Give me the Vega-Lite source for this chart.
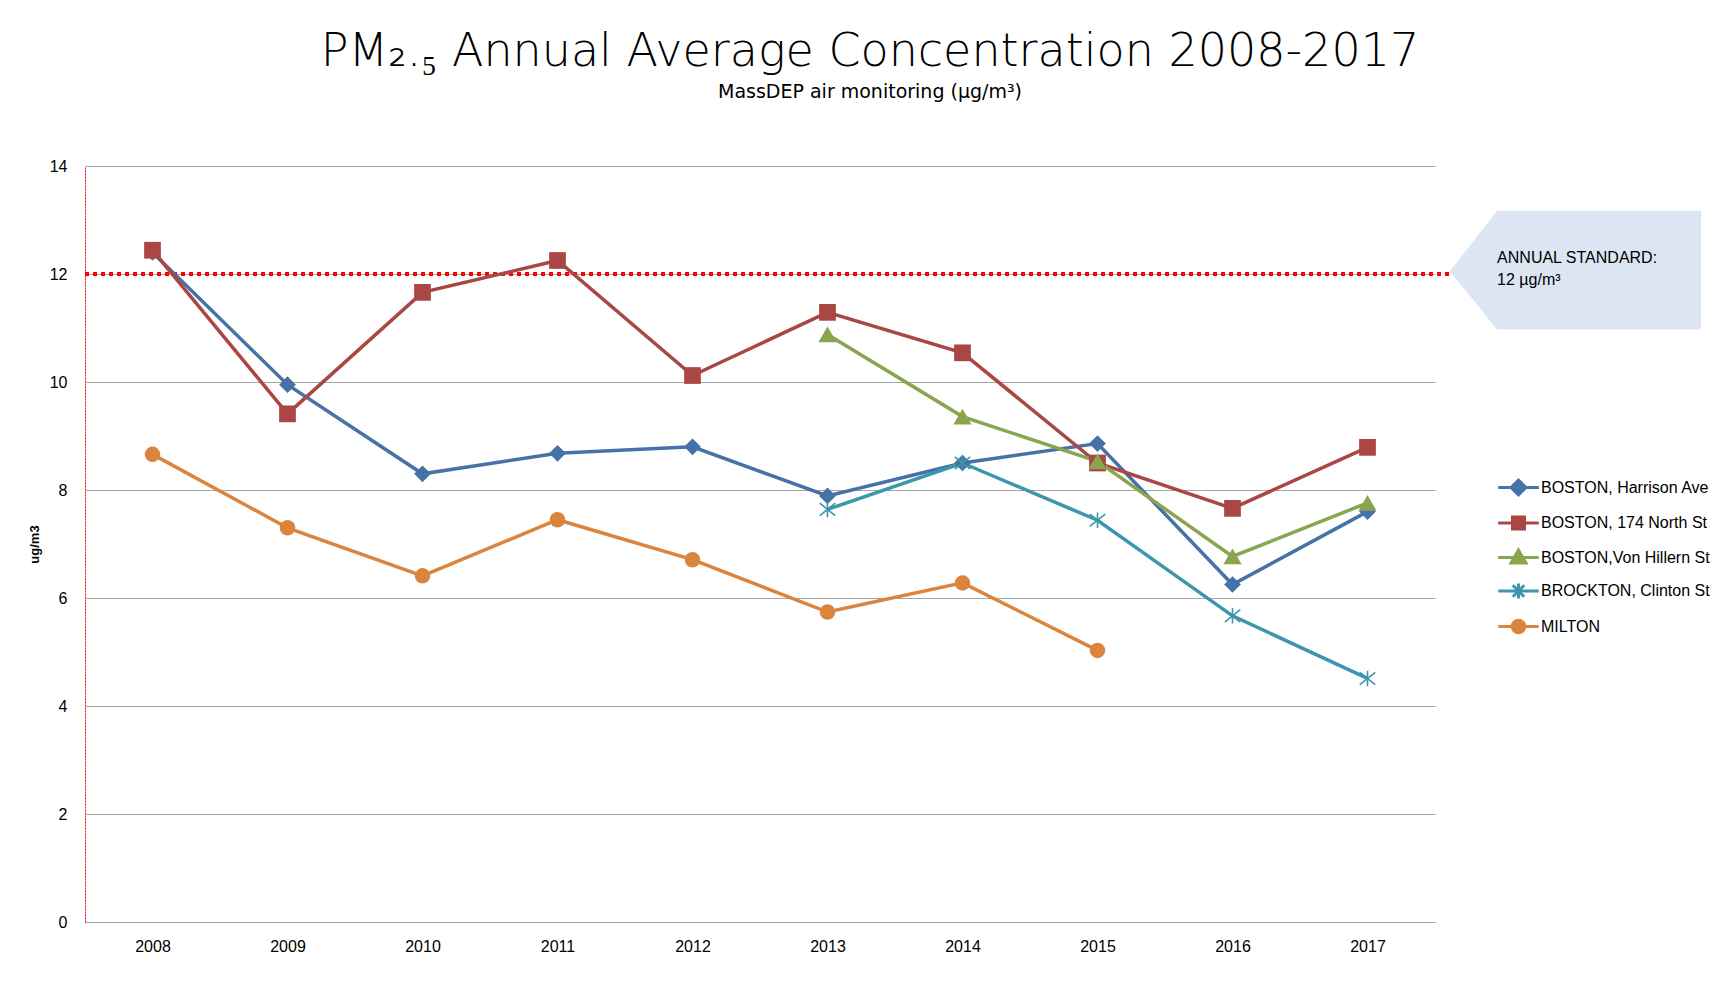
{
  "$schema": "https://vega.github.io/schema/vega-lite/v6.json",
  "autosize": {"type": "none"},
  "padding": {"left": 85, "top": 166, "right": 297, "bottom": 86},
  "width": 1350,
  "height": 756,
  "background": "white",
  "title": {
    "text": "PM₂.₅ Annual Average Concentration 2008-2017",
    "subtitle": "MassDEP air monitoring (µg/m³)",
    "anchor": "middle",
    "frame": "group",
    "dx": 110,
    "offset": 55,
    "font": "DejaVu Sans",
    "fontSize": 46,
    "fontWeight": 200,
    "color": "#000000",
    "subtitleFont": "DejaVu Sans",
    "subtitleFontSize": 19,
    "subtitleFontWeight": "normal",
    "subtitleColor": "#000000",
    "subtitlePadding": 7
  },
  "config": {
    "view": {"stroke": null},
    "axis": {"labelFont": "Liberation Sans", "labelFontSize": 16, "labelColor": "#000000", "titleFont": "Liberation Sans", "titleColor": "#000000"},
    "legend": {
      "orient": "none",
      "legendX": 1417,
      "legendY": 305,
      "padding": 0,
      "symbolSize": 900,
      "symbolStrokeWidth": 3,
      "symbolOpacity": 1,
      "labelOffset": 6,
      "labelFont": "Liberation Sans",
      "labelFontSize": 16,
      "labelColor": "#000000",
      "labelLimit": 300,
      "rowPadding": 5.5
    }
  },
  "datasets": {
    "pm": [
      {"series": "BOSTON, Harrison Ave", "year": 2008, "value": 12.4},
      {"series": "BOSTON, Harrison Ave", "year": 2009, "value": 9.95},
      {"series": "BOSTON, Harrison Ave", "year": 2010, "value": 8.3},
      {"series": "BOSTON, Harrison Ave", "year": 2011, "value": 8.68},
      {"series": "BOSTON, Harrison Ave", "year": 2012, "value": 8.8},
      {"series": "BOSTON, Harrison Ave", "year": 2013, "value": 7.89},
      {"series": "BOSTON, Harrison Ave", "year": 2014, "value": 8.5},
      {"series": "BOSTON, Harrison Ave", "year": 2015, "value": 8.86},
      {"series": "BOSTON, Harrison Ave", "year": 2016, "value": 6.25},
      {"series": "BOSTON, Harrison Ave", "year": 2017, "value": 7.6},
      {"series": "BOSTON, 174 North St", "year": 2008, "value": 12.44},
      {"series": "BOSTON, 174 North St", "year": 2009, "value": 9.41},
      {"series": "BOSTON, 174 North St", "year": 2010, "value": 11.66},
      {"series": "BOSTON, 174 North St", "year": 2011, "value": 12.25},
      {"series": "BOSTON, 174 North St", "year": 2012, "value": 10.12},
      {"series": "BOSTON, 174 North St", "year": 2013, "value": 11.29},
      {"series": "BOSTON, 174 North St", "year": 2014, "value": 10.54},
      {"series": "BOSTON, 174 North St", "year": 2015, "value": 8.5},
      {"series": "BOSTON, 174 North St", "year": 2016, "value": 7.66},
      {"series": "BOSTON, 174 North St", "year": 2017, "value": 8.79},
      {"series": "BOSTON,Von Hillern St", "year": 2013, "value": 10.88},
      {"series": "BOSTON,Von Hillern St", "year": 2014, "value": 9.36},
      {"series": "BOSTON,Von Hillern St", "year": 2015, "value": 8.53},
      {"series": "BOSTON,Von Hillern St", "year": 2016, "value": 6.77},
      {"series": "BOSTON,Von Hillern St", "year": 2017, "value": 7.76},
      {"series": "BROCKTON, Clinton St", "year": 2013, "value": 7.64},
      {"series": "BROCKTON, Clinton St", "year": 2014, "value": 8.5},
      {"series": "BROCKTON, Clinton St", "year": 2015, "value": 7.44},
      {"series": "BROCKTON, Clinton St", "year": 2016, "value": 5.67},
      {"series": "BROCKTON, Clinton St", "year": 2017, "value": 4.51},
      {"series": "MILTON", "year": 2008, "value": 8.66},
      {"series": "MILTON", "year": 2009, "value": 7.3},
      {"series": "MILTON", "year": 2010, "value": 6.41},
      {"series": "MILTON", "year": 2011, "value": 7.45},
      {"series": "MILTON", "year": 2012, "value": 6.71},
      {"series": "MILTON", "year": 2013, "value": 5.74},
      {"series": "MILTON", "year": 2014, "value": 6.28},
      {"series": "MILTON", "year": 2015, "value": 5.03}
    ],
    "callout": [
      {"x": 2017.61, "top": 12.05, "bot": 12.05},
      {"x": 2017.96, "top": 13.17, "bot": 10.97},
      {"x": 2019.47, "top": 13.17, "bot": 10.97}
    ],
    "calloutText": [
      {"x": 2017.96, "y": 12.29, "label": "ANNUAL STANDARD:\n12 µg/m³"}
    ],
    "standard": [
      {"x": 2007.5, "x2": 2017.62, "y": 12}
    ]
  },
  "layer": [
    {
      "data": {"name": "callout"},
      "mark": {"type": "area", "fill": "#DCE6F2", "stroke": null, "clip": false, "orient": "vertical"},
      "encoding": {
        "x": {
          "field": "x", "type": "quantitative",
          "scale": {"domain": [2007.5, 2017.5], "nice": false, "zero": false},
          "axis": {"title": null, "values": [2008, 2009, 2010, 2011, 2012, 2013, 2014, 2015, 2016, 2017], "format": "d", "grid": false, "ticks": false, "tickSize": 0, "labelPadding": 16, "domainColor": "#A6A6A6", "domainWidth": 1, "labelFlush": false}
        },
        "y": {
          "field": "top", "type": "quantitative",
          "scale": {"domain": [0, 14], "nice": false},
          "axis": {"title": "ug/m3", "titleFontWeight": "bold", "titleFontSize": 13, "titlePadding": 8, "values": [0, 2, 4, 6, 8, 10, 12, 14], "grid": true, "gridColor": "#A6A6A6", "gridWidth": 1, "ticks": false, "tickSize": 0, "labelPadding": 18, "domainColor": "#FF0000", "domainDash": [2, 1], "domainWidth": 1}
        },
        "y2": {"field": "bot"}
      }
    },
    {
      "data": {"name": "calloutText"},
      "mark": {"type": "text", "align": "left", "baseline": "middle", "lineBreak": "\n", "font": "Liberation Sans", "fontSize": 16, "lineHeight": 22, "color": "#000000"},
      "encoding": {
        "x": {"field": "x", "type": "quantitative"},
        "y": {"field": "y", "type": "quantitative"},
        "text": {"field": "label"}
      }
    },
    {
      "data": {"name": "standard"},
      "mark": {"type": "rule", "color": "#FF0000", "strokeWidth": 4, "strokeDash": [4, 4]},
      "encoding": {
        "x": {"field": "x", "type": "quantitative"},
        "x2": {"field": "x2"},
        "y": {"field": "y", "type": "quantitative"}
      }
    },
    {
      "data": {"name": "pm"},
      "mark": {"type": "line", "strokeWidth": 3.5},
      "encoding": {
        "x": {"field": "year", "type": "quantitative"},
        "y": {"field": "value", "type": "quantitative"},
        "color": {
          "field": "series", "type": "nominal",
          "scale": {"domain": ["BOSTON, Harrison Ave", "BOSTON, 174 North St", "BOSTON,Von Hillern St", "BROCKTON, Clinton St", "MILTON"], "range": ["#4572A7", "#AA4643", "#89A54E", "#3D96AE", "#DB843D"]},
          "legend": {"title": null}
        }
      }
    },
    {
      "data": {"name": "pm"},
      "transform": [{"filter": "datum.series === 'BOSTON, Harrison Ave'"}],
      "mark": {"type": "point", "shape": "diamond", "filled": true, "opacity": 1, "color": "#4572A7", "size": 280},
      "encoding": {"x": {"field": "year", "type": "quantitative"}, "y": {"field": "value", "type": "quantitative"}}
    },
    {
      "data": {"name": "pm"},
      "transform": [{"filter": "datum.series === 'BOSTON, 174 North St'"}],
      "mark": {"type": "point", "shape": "square", "filled": true, "opacity": 1, "color": "#AA4643", "size": 280},
      "encoding": {"x": {"field": "year", "type": "quantitative"}, "y": {"field": "value", "type": "quantitative"}}
    },
    {
      "data": {"name": "pm"},
      "transform": [{"filter": "datum.series === 'BOSTON,Von Hillern St'"}],
      "mark": {"type": "point", "shape": "triangle-up", "filled": true, "opacity": 1, "color": "#89A54E", "size": 330},
      "encoding": {"x": {"field": "year", "type": "quantitative"}, "y": {"field": "value", "type": "quantitative"}}
    },
    {
      "data": {"name": "pm"},
      "transform": [{"filter": "datum.series === 'BROCKTON, Clinton St'"}],
      "mark": {"type": "point", "shape": "M-1,-0.8L1,0.8M-1,0.8L1,-0.8M0,-1V1", "filled": false, "opacity": 1, "color": "#3D96AE", "strokeWidth": 1.6, "size": 240},
      "encoding": {"x": {"field": "year", "type": "quantitative"}, "y": {"field": "value", "type": "quantitative"}}
    },
    {
      "data": {"name": "pm"},
      "transform": [{"filter": "datum.series === 'MILTON'"}],
      "mark": {"type": "point", "shape": "circle", "filled": true, "opacity": 1, "color": "#DB843D", "size": 240},
      "encoding": {"x": {"field": "year", "type": "quantitative"}, "y": {"field": "value", "type": "quantitative"}}
    },
    {
      "data": {"name": "pm"},
      "transform": [{"filter": "datum.series === 'none'"}],
      "mark": {"type": "point", "filled": true, "opacity": 1, "strokeWidth": 3},
      "encoding": {
        "x": {"field": "year", "type": "quantitative"},
        "y": {"field": "value", "type": "quantitative"},
        "color": {"field": "series", "type": "nominal", "legend": {"title": null}},
        "stroke": {
          "field": "series", "type": "nominal",
          "scale": {"domain": ["BOSTON, Harrison Ave", "BOSTON, 174 North St", "BOSTON,Von Hillern St", "BROCKTON, Clinton St", "MILTON"], "range": ["#4572A7", "#AA4643", "#89A54E", "#3D96AE", "#DB843D"]},
          "legend": {"title": null}
        },
        "shape": {
          "field": "series", "type": "nominal",
          "scale": {"domain": ["BOSTON, Harrison Ave", "BOSTON, 174 North St", "BOSTON,Von Hillern St", "BROCKTON, Clinton St", "MILTON"], "range": ["M-1.35,0H1.35M-0.5,0L0,-0.5L0.5,0L0,0.5Z", "M-1.35,0H1.35M-0.4,-0.4H0.4V0.4H-0.4Z", "M-1.35,0H1.35M0,-0.5L0.5,0.36L-0.5,0.36Z", "M-1.35,0H1.35M-0.38,-0.38L0.38,0.38M-0.38,0.38L0.38,-0.38M0,-0.5V0.5", "M-1.35,0H1.35M-0.42,0A0.42,0.42,0,1,0,0.42,0A0.42,0.42,0.0,1,0,-0.42,0Z"]},
          "legend": {"title": null}
        }
      }
    }
  ]
}
